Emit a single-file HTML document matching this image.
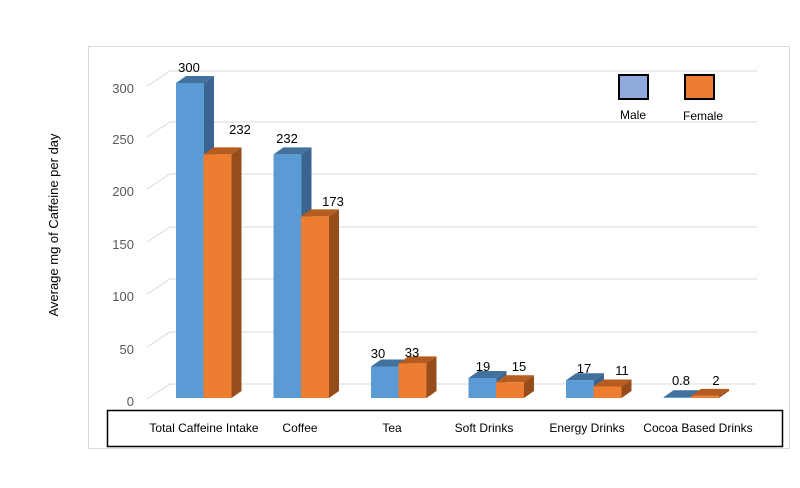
<!DOCTYPE html><html><head><style>body{margin:0;background:#fff}svg{display:block;font-family:"Liberation Sans",sans-serif}</style></head><body>
<svg width="800" height="488" xmlns="http://www.w3.org/2000/svg">
<rect x="88.5" y="46.5" width="701" height="402" fill="#fff" stroke="#d9d9d9"/>
<path d="M147 399L170 384H757M147 347L170 332H757M147 294L170 279H757M147 242L170 227H757M147 189L170 174H757M147 137L170 122H757M147 86L170 71H757" stroke="#d9d9d9" fill="none"/>
<g font-size="13" fill="#595959" text-anchor="end">
<text x="134" y="406">0</text><text x="134" y="354">50</text><text x="134" y="301">100</text><text x="134" y="249">150</text><text x="134" y="196">200</text><text x="134" y="144">250</text><text x="134" y="93">300</text>
</g>
<text transform="translate(58,225) rotate(-90)" font-size="13" text-anchor="middle" fill="#000">Average mg of Caffeine per day</text>
<g>
<polygon points="176,83 186,76 214,76 204,83" fill="#41719c"/><polygon points="204,83 214,76 214,391 204,398" fill="#3a6590"/><rect x="176" y="83" width="28" height="315" fill="#5b9bd5"/>
<polygon points="203.5,154.4 213.5,147.4 241.5,147.4 231.5,154.4" fill="#b65c1f"/><polygon points="231.5,154.4 241.5,147.4 241.5,391 231.5,398" fill="#974c1b"/><rect x="203.5" y="154.4" width="28" height="243.6" fill="#ed7d31"/>
<polygon points="273.5,154.4 283.5,147.4 311.5,147.4 301.5,154.4" fill="#41719c"/><polygon points="301.5,154.4 311.5,147.4 311.5,391 301.5,398" fill="#3a6590"/><rect x="273.5" y="154.4" width="28" height="243.6" fill="#5b9bd5"/>
<polygon points="301,216.4 311,209.4 339,209.4 329,216.4" fill="#b65c1f"/><polygon points="329,216.4 339,209.4 339,391 329,398" fill="#974c1b"/><rect x="301" y="216.4" width="28" height="181.6" fill="#ed7d31"/>
<polygon points="371,366.5 381,359.5 409,359.5 399,366.5" fill="#41719c"/><polygon points="399,366.5 409,359.5 409,391 399,398" fill="#3a6590"/><rect x="371" y="366.5" width="28" height="31.5" fill="#5b9bd5"/>
<polygon points="398.5,363.4 408.5,356.4 436.5,356.4 426.5,363.4" fill="#b65c1f"/><polygon points="426.5,363.4 436.5,356.4 436.5,391 426.5,398" fill="#974c1b"/><rect x="398.5" y="363.4" width="28" height="34.6" fill="#ed7d31"/>
<polygon points="468.5,378 478.5,371 506.5,371 496.5,378" fill="#41719c"/><polygon points="496.5,378 506.5,371 506.5,391 496.5,398" fill="#3a6590"/><rect x="468.5" y="378" width="28" height="20" fill="#5b9bd5"/>
<polygon points="496,382.3 506,375.3 534,375.3 524,382.3" fill="#b65c1f"/><polygon points="524,382.3 534,375.3 534,391 524,398" fill="#974c1b"/><rect x="496" y="382.3" width="28" height="15.7" fill="#ed7d31"/>
<polygon points="566,380.2 576,373.2 604,373.2 594,380.2" fill="#41719c"/><polygon points="594,380.2 604,373.2 604,391 594,398" fill="#3a6590"/><rect x="566" y="380.2" width="28" height="17.8" fill="#5b9bd5"/>
<polygon points="593.5,386.5 603.5,379.5 631.5,379.5 621.5,386.5" fill="#b65c1f"/><polygon points="621.5,386.5 631.5,379.5 631.5,391 621.5,398" fill="#974c1b"/><rect x="593.5" y="386.5" width="28" height="11.5" fill="#ed7d31"/>
<polygon points="663.5,397.2 673.5,390.2 701.5,390.2 691.5,397.2" fill="#41719c"/><polygon points="691.5,397.2 701.5,390.2 701.5,391 691.5,398" fill="#3a6590"/><rect x="663.5" y="397.2" width="28" height="0.8" fill="#5b9bd5"/>
<polygon points="691,395.9 701,388.9 729,388.9 719,395.9" fill="#b65c1f"/><polygon points="719,395.9 729,388.9 729,391 719,398" fill="#974c1b"/><rect x="691" y="395.9" width="28" height="2.1" fill="#ed7d31"/>
</g>
<g font-size="13" text-anchor="middle" fill="#000">
<text x="189" y="72">300</text><text x="240" y="134">232</text>
<text x="287" y="143">232</text><text x="333" y="206">173</text>
<text x="378" y="358">30</text><text x="412" y="357">33</text>
<text x="483" y="371">19</text><text x="519" y="371">15</text>
<text x="584" y="373">17</text><text x="622" y="375">11</text>
<text x="681" y="385">0.8</text><text x="716" y="385">2</text>
</g>
<rect x="107.5" y="410.5" width="675" height="36" fill="none" stroke="#000" stroke-width="1.5"/>
<g font-size="12" text-anchor="middle" fill="#000">
<text x="204" y="432">Total Caffeine Intake</text><text x="300" y="432">Coffee</text><text x="392" y="432">Tea</text><text x="484" y="432">Soft Drinks</text><text x="587" y="432">Energy Drinks</text><text x="698" y="432">Cocoa Based Drinks</text>
</g>
<rect x="619" y="75" width="29" height="24" fill="#8faadc" stroke="#000" stroke-width="2"/>
<rect x="685" y="75" width="29" height="24" fill="#ed7d31" stroke="#000" stroke-width="2"/>
<text x="633" y="119" font-size="12" text-anchor="middle">Male</text>
<text x="703" y="120" font-size="12" text-anchor="middle">Female</text>
</svg></body></html>
